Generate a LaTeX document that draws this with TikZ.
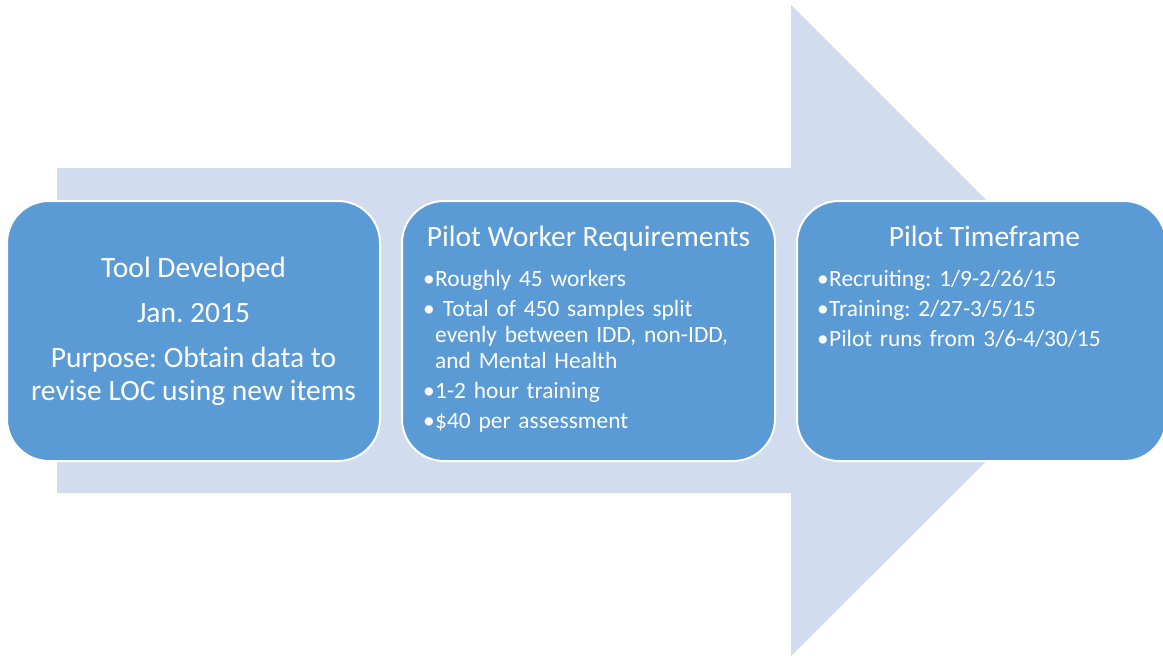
\documentclass[tikz,border=0pt]{standalone}
\usepackage{fontspec}
\setmainfont{Carlito}
\usetikzlibrary{positioning}
\definecolor{stageblue}{HTML}{5B9BD5}
\definecolor{arrowgrey}{HTML}{D1DDEE}
\newcommand{\bul}{\makebox[12pt][l]{\textbullet}}
\newcommand{\cont}{\hspace*{12pt}}
\frenchspacing

\begin{document}
\begin{tikzpicture}[x=1pt, y=-1pt,
        stage/.style={rectangle, rounded corners=42pt, fill=stageblue, draw=white, line width=2pt,
            minimum width=373pt, minimum height=260pt, text=white, inner sep=0pt},
        headline/.style={text=white, font=\fontsize{29.5}{33}\selectfont, anchor=base, inner sep=0pt},
        bullets/.style={text=white, font=\fontsize{23.4}{26}\selectfont, text width=340pt, align=left,
            anchor=base west, inner sep=0pt}]
        \useasboundingbox (0,0) rectangle (1163,656);
        % big background arrow
        \fill[arrowgrey] (57,168) -- (791,168) -- (791,5) -- (1117,331) -- (791,656) -- (791,493) -- (57,493) -- cycle;

        \node[stage, align=center, font=\fontsize{29.5}{33}\selectfont] (tool) at (193.5,331)
            {Tool Developed\\[12pt]Jan. 2015\\[12pt]Purpose: Obtain data to\\revise LOC using new items};
        \node[stage, right=20pt of tool] (req) {};
        \node[stage, minimum width=369pt, right=20pt of req] (time) {};

        \node[headline] (reqtitle) at ([yshift=-46pt]req.north) {Pilot Worker Requirements};
        \node[headline] (timetitle) at ([xshift=3pt, yshift=-46pt]time.north) {Pilot Timeframe};

        \node[bullets] (reqlist) at ([xshift=22pt, yshift=-86pt]req.north west)
            {\bul Roughly 45 workers\\[4pt]\bul\ Total of 450 samples split\\\cont evenly between IDD, non-IDD,\\\cont and Mental Health\\[4pt]\bul 1-2 hour training\\[4pt]\bul \$40 per assessment};
        \node[bullets] (timelist) at ([xshift=21pt, yshift=-86pt]time.north west)
            {\bul Recruiting: 1/9-2/26/15\\[4pt]\bul Training: 2/27-3/5/15\\[4pt]\bul Pilot runs from 3/6-4/30/15};
\end{tikzpicture}
\end{document}
